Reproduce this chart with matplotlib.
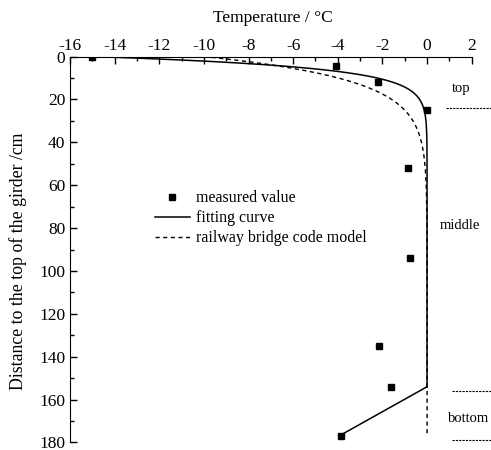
import numpy as np
import matplotlib.pyplot as plt
from matplotlib.ticker import MultipleLocator

plt.rcParams['font.family'] = ['Liberation Serif', 'DejaVu Serif']
plt.rcParams['axes.unicode_minus'] = False

# measured temperatures along the girder depth
depth_meas = [0, 4.5, 12, 25, 52, 94, 135, 154, 177]
temp_meas = [-15, -4.1, -2.2, 0, -0.85, -0.75, -2.15, -1.6, -3.85]

# fitted exponential profile for the top flange, linear at the bottom
T0_fit, a_fit = -15, 0.19
bottom_start, bottom_end = 154, 177
T_bottom = -3.95

# railway bridge code profile
T0_code, a_code = -10, 0.092

y_top = np.linspace(0, bottom_start, 400)
fit_top = T0_fit * np.exp(-a_fit * y_top)
y_code = np.linspace(0, bottom_end, 400)
code_curve = T0_code * np.exp(-a_code * y_code)

fig = plt.figure(figsize=(4.91, 4.5), dpi=100)
ax = fig.add_axes([0.1426, 0.0167, 0.8181, 0.8577])

ax.plot(temp_meas, depth_meas, 's', color='black', markersize=5, label='measured value')
ax.plot(fit_top, y_top, '-', color='black', lw=1.1, label='fitting curve')
ax.plot([0, T_bottom], [bottom_start, bottom_end], '-', color='black', lw=1.1)
ax.plot(code_curve, y_code, '--', color='black', lw=1.0, dashes=(3, 2.5),
        label='railway bridge code model')

ax.set_xlim(-16, 2)
ax.set_ylim(180, 0)
ax.xaxis.set_major_locator(MultipleLocator(2))
ax.xaxis.set_minor_locator(MultipleLocator(1))
ax.yaxis.set_major_locator(MultipleLocator(20))
ax.yaxis.set_minor_locator(MultipleLocator(10))
ax.xaxis.tick_top()
ax.xaxis.set_label_position('top')
ax.tick_params(which='both', direction='in', top=True, bottom=False, right=False,
               labelsize=12.5, width=1)
ax.tick_params(which='major', length=5)
ax.tick_params(which='minor', length=3)
ax.tick_params(axis='x', pad=2)
ax.spines['right'].set_visible(False)
ax.spines['bottom'].set_visible(False)

ax.set_xlabel('Temperature / \u00b0C', fontsize=12.5)
ax.xaxis.set_label_coords(0.504, 1.1)
ax.xaxis.label.set_verticalalignment('center')
ax.set_ylabel('Distance to the top of the girder /cm', fontsize=12.8)
ax.yaxis.set_label_coords(-0.129, 0.47)
ax.yaxis.label.set_verticalalignment('center')

ax.legend(loc='upper left', bbox_to_anchor=(0.195, 0.67), frameon=False,
          fontsize=11.5, handlelength=2.2, handletextpad=0.4, labelspacing=0.25,
          borderaxespad=0)

# zone labels on the right side
zone_kw = dict(fontsize=10.5, ha='center', va='center', clip_on=False)
ax.text(1.55, 15, 'top', **zone_kw)
ax.text(1.45, 79, 'middle', **zone_kw)
ax.text(1.85, 169, 'bottom', **zone_kw)
for yb, x0 in [(24, 0.85), (156, 1.1), (179, 1.1)]:
    ax.plot([x0, 2.85], [yb, yb], color='black', lw=0.8, ls=(0, (2, 1)), clip_on=False)

fig.savefig('out.png', dpi=100)
